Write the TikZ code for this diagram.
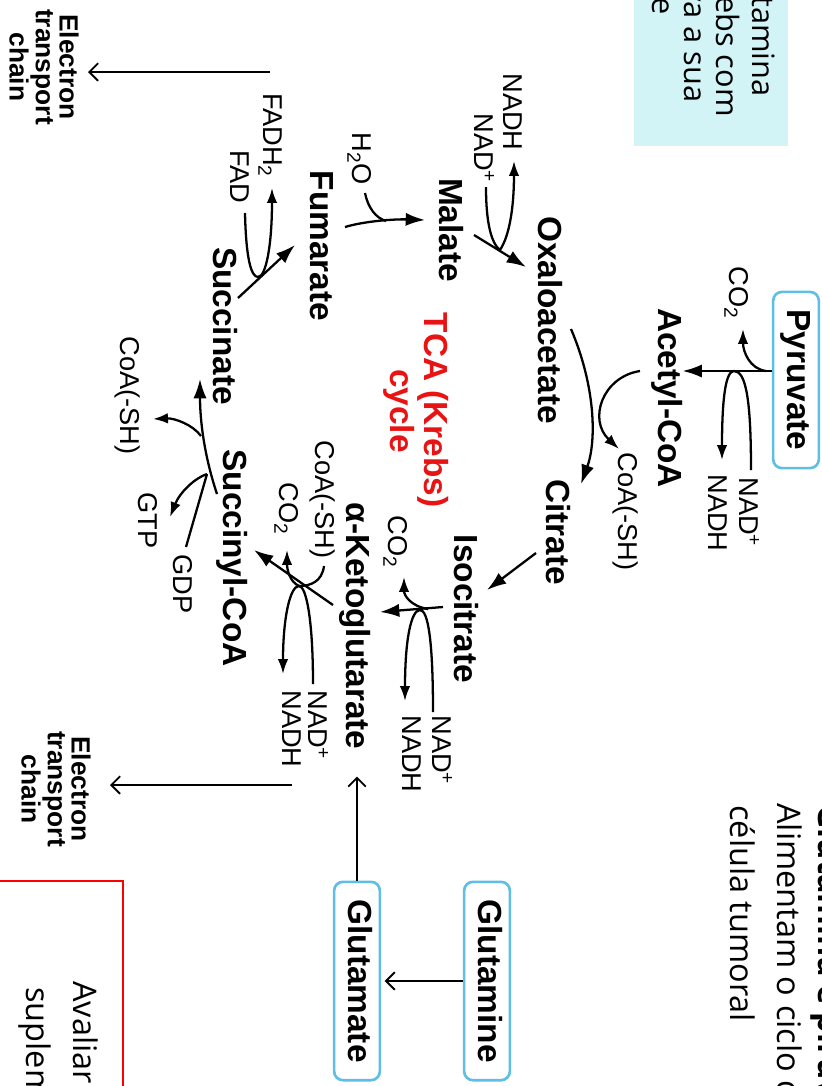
\documentclass[tikz,border=0pt]{standalone}
\usepackage{fontspec}
\setmainfont{Liberation Sans}
\newfontfamily\slidefont{Open Sans}
\usetikzlibrary{arrows.meta}
\definecolor{boxblue}{RGB}{95,190,230}
\definecolor{notecyan}{RGB}{211,244,247}
\definecolor{tcared}{RGB}{232,20,20}
\tikzset{%
	met/.style      = {font=\fontsize{19}{19}\selectfont\bfseries, rotate=-90, inner sep=0pt, anchor=base}, % metabolite
	srcbox/.style   = {met, anchor=center, draw=boxblue, fill=white, line width=1.5pt, rounded corners=5pt, inner xsep=10pt, inner ysep=4pt, text height=14pt, text depth=4pt},
	lbl/.style      = {font=\fontsize{15.5}{15.5}\selectfont, rotate=-90, inner sep=0pt, anchor=base west}, % cofactor
	etclbl/.style   = {font=\fontsize{15}{13.5}\selectfont\bfseries, rotate=-90, inner sep=0pt, align=center},
	note/.style     = {font=\slidefont\fontsize{18.5}{18.5}\selectfont, rotate=-90, inner sep=0pt},
	rxn/.style      = {line width=1.3pt, -{Latex[length=11pt,width=7.5pt]}},
	side/.style     = {line width=1.3pt, -{Latex[length=8.5pt,width=6pt]}},
	feed/.style     = {line width=1.3pt},
	etcarrow/.style = {line width=1.1pt, -{Straight Barb[length=5pt,width=10pt]}},
}
\begin{document}
\begin{tikzpicture}[x=0.02cm, y=-0.02cm]
	\useasboundingbox (0,0) rectangle (822,1086);

	% slide around the figure
	\fill[notecyan] (634,-10) rectangle (788,146);
	\node[note, anchor=base east, font=\slidefont\fontsize{17.5}{17.5}\selectfont] (n1) at (752,97) {lutamina};
	\node[note, anchor=base east, font=\slidefont\fontsize{17.5}{17.5}\selectfont] (n2) at (716,117) {Krebs com};
	\node[note, anchor=base east, font=\slidefont\fontsize{17.5}{17.5}\selectfont] (n3) at (684,103) {erva a sua};
	\node[note, anchor=base east, font=\slidefont\fontsize{17.5}{17.5}\selectfont] (n4) at (652,15) {le};
	\node[note, anchor=base west, font=\slidefont\bfseries\fontsize{18.5}{18.5}\selectfont] (h1) at (818,805) {Glutamina e piruvato};
	\node[note, anchor=base west] (h2) at (777,803) {Alimentam o ciclo de};
	\node[note, anchor=base west] (h3) at (730,805) {célula tumoral};
	\draw[red, line width=0.6pt] (-10,881) -- (123,881) -- (123,1100);
	\node[note, anchor=base west] (r1) at (73,981) {Avaliar a};
	\node[note, anchor=base west] (r2) at (27,987) {suplementação};

	% metabolites
	\node[srcbox] (pyr) at (796,380) {Pyruvate};
	\node[met] (acoa) at (658,398) {Acetyl-CoA};
	\node[met] (oaa) at (538,320) {Oxaloacetate};
	\node[met] (cit) at (546,532) {Citrate};
	\node[met] (icit) at (454,609) {Isocitrate};
	\node[met] (akg) at (346,626) {α-Ketoglutarate};
	\node[met] (scoa) at (223,558) {Succinyl-CoA};
	\node[met] (succ) at (213,326) {Succinate};
	\node[met] (fum) at (310,246) {Fumarate};
	\node[met] (mal) at (439,230) {Malate};
	\node[met, text=tcared] (tca1) at (424,410) {TCA (Krebs)};
	\node[met, text=tcared] (tca2) at (390,411) {cycle};
	\node[srcbox] (gln) at (487,981) {Glutamine};
	\node[srcbox] (glu) at (357,981) {Glutamate};

	% cofactors
	\node[lbl] (co2a) at (729,266) {CO\textsubscript{2}};
	\node[lbl] (nad1) at (739,477) {NAD\textsuperscript{+}};
	\node[lbl] (nadh1) at (708,474) {NADH};
	\node[lbl] (coa1) at (618,452) {CoA(-SH)};
	\node[lbl] (co2b) at (388,515) {CO\textsubscript{2}};
	\node[lbl] (nad3) at (432,715) {NAD\textsuperscript{+}};
	\node[lbl] (nadh3) at (402,715) {NADH};
	\node[lbl] (coa2) at (315,440) {CoA(-SH)};
	\node[lbl] (co2c) at (279,482) {CO\textsubscript{2}};
	\node[lbl] (nad4) at (308,690) {NAD\textsuperscript{+}};
	\node[lbl] (nadh4) at (282,690) {NADH};
	\node[lbl] (gdp) at (173,554) {GDP};
	\node[lbl] (gtp) at (138,492) {GTP};
	\node[lbl] (coa3) at (120,336) {CoA(-SH)};
	\node[lbl] (fadh) at (263,93) {FADH\textsubscript{2}};
	\node[lbl] (fad) at (230,150) {FAD};
	\node[lbl] (h2o) at (352,132) {H\textsubscript{2}O};
	\node[lbl] (nadh2) at (503,73) {NADH};
	\node[lbl] (nad2) at (474,113) {NAD\textsuperscript{+}};
	\node[etclbl] (etc1) at (44,67) {Electron\\transport\\chain};
	\node[etclbl] (etc2) at (56,789) {Electron\\transport\\chain};

	% junctions and free ends
	\coordinate (j1) at (734,371);
	\coordinate (j4) at (420,610);
	\coordinate (j5) at (299,586);
	\coordinate (j6) at (207,474);
	\coordinate (j9) at (500,250);
	\coordinate (etc1-in) at (88,72);
	\coordinate (etc1-out) at (270,72);
	\coordinate (etc2-in) at (110,785);
	\coordinate (etc2-out) at (292,785);

	% Pyruvate -> Acetyl-CoA
	\draw[rxn] (pyr.south |- j1) -- (acoa.north |- j1);
	\draw[side] (766,371) .. controls (750,369) and (743,352) .. (743,329);
	\draw[side] (751,470) .. controls (751,400) and (746,371) .. (j1) .. controls (726,371) and (722,396) .. (722,460);
	% Oxaloacetate + Acetyl-CoA -> Citrate
	\draw[rxn] (571,329) .. controls (595,385) and (597,440) .. (581,484);
	\draw[side] (640,371) .. controls (602,377) and (588,420) .. (619,449);
	% Citrate -> Isocitrate
	\draw[rxn] (536,553) -- (487,590);
	% Isocitrate -> alpha-Ketoglutarate
	\draw[rxn] (443,607) -- (380,612);
	\draw[side] (428,609) .. controls (410,606) and (404,595) .. (404,577);
	\draw[side] (433,712) .. controls (433,640) and (428,610) .. (j4) .. controls (411,610) and (405,640) .. (405,701);
	% alpha-Ketoglutarate -> Succinyl-CoA
	\draw[rxn] (333,605) -- (254,550);
	\draw[feed] (324,566) .. controls (322,582) and (310,586) .. (j5);
	\draw[side] (j5) .. controls (290,582) and (287,570) .. (287,550);
	\draw[side] (313,684) .. controls (313,618) and (306,586) .. (j5) .. controls (290,586) and (283,618) .. (283,674);
	% Succinyl-CoA -> Succinate
	\draw[rxn] (217,494) .. controls (204,455) and (200,420) .. (200,379);
	\draw[feed] (186,547) -- (j6);
	\draw[side] (j6) .. controls (195,478) and (180,492) .. (170,517);
	\draw[side] (201,436) .. controls (193,425) and (175,418) .. (153,419);
	% Succinate -> Fumarate
	\draw[rxn] (238,298) -- (295,245);
	\draw[side] (245,213) .. controls (246,258) and (251,277) .. (258,277) .. controls (266,277) and (272,245) .. (272,188);
	% Fumarate -> Malate
	\draw[rxn] (345,227) .. controls (365,221) and (395,219) .. (425,220);
	\draw[feed] (365,193) .. controls (368,208) and (376,218) .. (386,221);
	% Malate -> Oxaloacetate
	\draw[rxn] (474,235) -- (526,267);
	\draw[feed] (486,187) .. controls (486,222) and (491,243) .. (j9);
	\draw[side] (j9) .. controls (510,235) and (514,205) .. (514,161);

	% electron transport and glutamine entry
	\draw[etcarrow] (etc1-out) -- (etc1-in);
	\draw[etcarrow] (etc2-out) -- (etc2-in);
	\draw[etcarrow, shorten >=2pt] (gln.south) -- (glu.north);
	\draw[etcarrow] (glu.west) -- ++(0,-104);
\end{tikzpicture}
\end{document}
